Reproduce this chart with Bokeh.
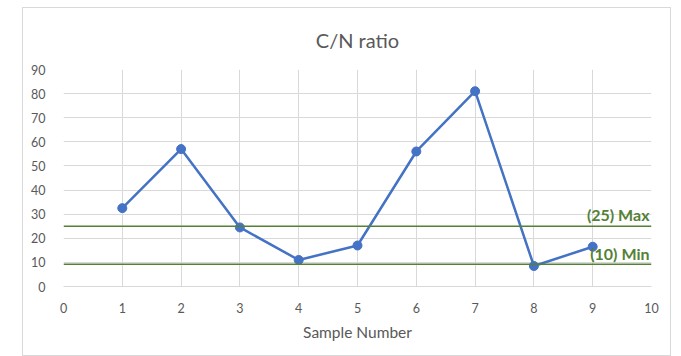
from bokeh.plotting import figure
from bokeh.models import Label, Span, FixedTicker
from bokeh.embed import file_html
from bokeh.resources import INLINE

samples = [1, 2, 3, 4, 5, 6, 7, 8, 9]
cn_ratio = [32.5, 57, 24.5, 11, 17, 56, 81, 8.5, 16.5]
max_limit = 25
min_limit = 9.2
max_label = "(25) Max"
min_label = "(10) Min"
x_ticks = list(range(0, 11))
y_ticks = list(range(0, 91, 10))

FONT = "Lato"
GREY = "#595959"
GREEN = "#538135"
BLUE = "#4472C4"

p = figure(width=649, height=349, output_backend="svg", toolbar_location=None,
           x_range=(0, 10), y_range=(0, 90),
           min_border_left=40, min_border_right=21, min_border_top=61, min_border_bottom=71)
p.margin = (7, 0, 0, 22)
p.styles = {"border": "1px solid #d9d9d9", "box-sizing": "border-box"}
p.outline_line_color = None
p.background_fill_color = "white"
p.border_fill_color = "white"

p.title.text = "C/N ratio"
p.title.align = "center"
p.title.offset = -9
p.title.text_font = FONT
p.title.text_font_size = "20px"
p.title.text_font_style = "normal"
p.title.text_color = GREY
p.title.standoff = 35

p.xgrid.ticker = FixedTicker(ticks=x_ticks)
p.ygrid.ticker = FixedTicker(ticks=y_ticks)
p.xaxis.ticker = FixedTicker(ticks=x_ticks)
p.yaxis.ticker = FixedTicker(ticks=y_ticks)
for g in (p.xgrid, p.ygrid):
    g.grid_line_color = "#d9d9d9"
    g.grid_line_width = 1

for ax in (p.xaxis, p.yaxis):
    ax.major_tick_line_color = None
    ax.minor_tick_line_color = None
    ax.major_label_text_font = FONT
    ax.major_label_text_font_size = "12.5px"
    ax.major_label_text_color = GREY
p.yaxis.axis_line_color = None
p.xaxis.axis_line_color = "#d9d9d9"
p.yaxis.major_label_standoff = 12
p.xaxis.major_label_standoff = 10
p.xaxis.axis_label = "Sample Number"
p.xaxis.axis_label_text_font = FONT
p.xaxis.axis_label_text_font_size = "15.5px"
p.xaxis.axis_label_text_font_style = "normal"
p.xaxis.axis_label_text_color = GREY
p.xaxis.axis_label_standoff = 7

p.add_layout(Span(location=max_limit, dimension="width", line_color=GREEN, line_width=1.5))
p.add_layout(Span(location=min_limit, dimension="width", line_color=GREEN, line_width=1.5))

p.line(samples, cn_ratio, line_color=BLUE, line_width=2.5)
p.scatter(samples, cn_ratio, size=9, fill_color=BLUE, line_color=BLUE)

p.add_layout(Label(x=10, y=max_limit, text=max_label, text_align="right", text_baseline="bottom",
                   x_offset=-2, y_offset=2, text_font=FONT, text_font_size="16px",
                   text_font_style="bold", text_color=GREEN))
p.add_layout(Label(x=10, y=min_limit, text=min_label, text_align="right", text_baseline="bottom",
                   x_offset=-2, y_offset=1, text_font=FONT, text_font_size="16px",
                   text_font_style="bold", text_color=GREEN))

open("out.html", "w").write(file_html(p, INLINE))
